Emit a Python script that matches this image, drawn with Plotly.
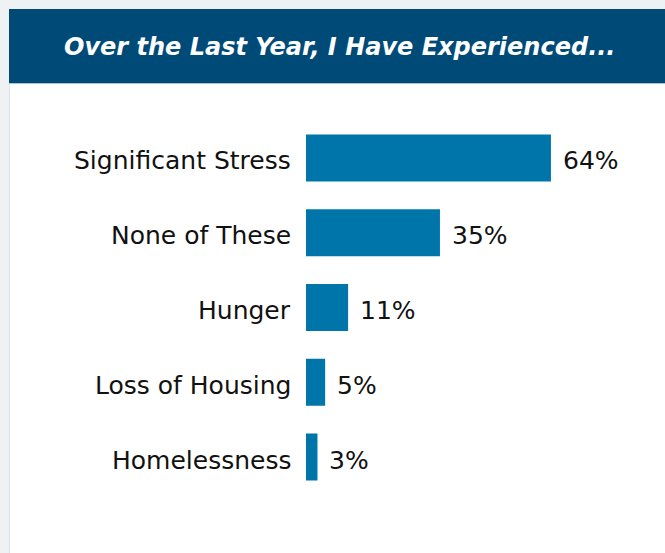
import plotly.graph_objects as go

categories = ["Significant Stress", "None of These", "Hunger", "Loss of Housing", "Homelessness"]
percentages = [64, 35, 11, 5, 3]
title_text = "Over the Last Year, I Have Experienced..."

W, H = 665, 553
BAR_COLOR = "#0075aa"
HEADER_COLOR = "#004a78"
PAGE_GRAY = "#eef2f5"
FONT = "DejaVu Sans"
TEXT_COLOR = "#111111"
LABEL_SIZE = 25


def px_x(v):
    return v / W


def px_y(v):
    return 1 - v / H


fig = go.Figure(
    go.Bar(
        x=percentages,
        y=categories,
        orientation="h",
        marker=dict(color=BAR_COLOR, line=dict(width=0)),
        hoverinfo="skip",
    )
)

for cat, val in zip(categories, percentages):
    # category name to the left of the bar
    fig.add_annotation(
        x=0, y=cat, xref="x", yref="y",
        text=cat, showarrow=False,
        xanchor="right", yanchor="middle", xshift=-13, yshift=-3,
        font=dict(family=FONT, size=LABEL_SIZE, color=TEXT_COLOR),
    )
    # value label just past the end of the bar
    fig.add_annotation(
        x=val, y=cat, xref="x", yref="y",
        text=f"{val}%", showarrow=False,
        xanchor="left", yanchor="middle", xshift=10, yshift=-3,
        font=dict(family=FONT, size=LABEL_SIZE, color=TEXT_COLOR),
    )

# page frame: gray strip on top and left, dark header band
fig.add_shape(type="rect", xref="paper", yref="paper", x0=0, x1=1, y0=px_y(9), y1=1,
              fillcolor=PAGE_GRAY, line=dict(width=0), layer="below")
fig.add_shape(type="rect", xref="paper", yref="paper", x0=0, x1=px_x(9), y0=0, y1=1,
              fillcolor=PAGE_GRAY, line=dict(width=0), layer="below")
fig.add_shape(type="line", xref="paper", yref="paper", x0=px_x(9.5), x1=px_x(9.5), y0=0, y1=px_y(9),
              line=dict(color="#dbe2e8", width=1), layer="below")
fig.add_shape(type="rect", xref="paper", yref="paper", x0=px_x(9), x1=1, y0=px_y(83), y1=px_y(9),
              fillcolor=HEADER_COLOR, line=dict(width=0), layer="below")
fig.add_shape(type="line", xref="paper", yref="paper", x0=px_x(9), x1=1, y0=px_y(83.5), y1=px_y(83.5),
              line=dict(color="#a9c3d8", width=1), layer="below")

fig.add_annotation(
    x=px_x(339), y=px_y(47), xref="paper", yref="paper",
    text=f"<i>{title_text}</i>", showarrow=False,
    xanchor="center", yanchor="middle",
    font=dict(family=FONT, size=24, color="white", weight="bold"),
)

fig.update_layout(
    width=W, height=H,
    margin=dict(l=0, r=0, t=0, b=0),
    paper_bgcolor="white", plot_bgcolor="white",
    showlegend=False, bargap=0.37,
    font=dict(family=FONT, size=LABEL_SIZE, color=TEXT_COLOR),
    xaxis=dict(domain=[px_x(306), 1], range=[0, 93.8], visible=False, fixedrange=True),
    yaxis=dict(
        domain=[px_y(494.4), px_y(120.6)],
        autorange="reversed",
        showgrid=False, zeroline=False, showline=False,
        showticklabels=False, fixedrange=True,
    ),
)

fig.write_html("out.html")
